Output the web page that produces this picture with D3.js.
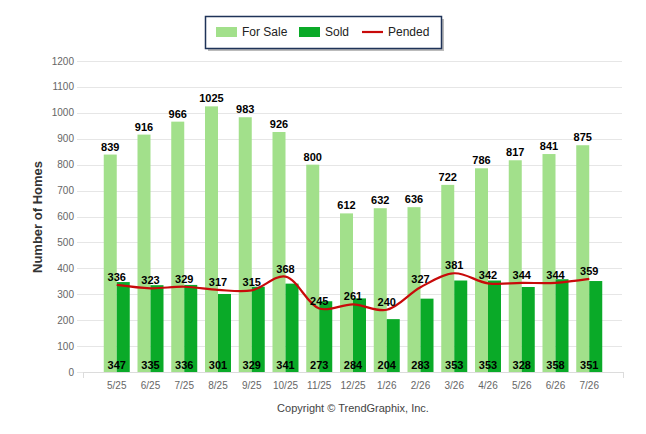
<!DOCTYPE html>
<html>
<head>
<meta charset="utf-8">
<script src="https://cdn.jsdelivr.net/npm/d3@7"></script>
<style>
  body { margin: 0; background: #fff; }
  svg { display: block; font-family: "Liberation Sans", Arial, sans-serif; }
</style>
</head>
<body>
<div id="chart"></div>
<script>
// data START
var months  = ["5/25","6/25","7/25","8/25","9/25","10/25","11/25","12/25","1/26","2/26","3/26","4/26","5/26","6/26","7/26"];
var forSale = [839, 916, 966, 1025, 983, 926, 800, 612, 632, 636, 722, 786, 817, 841, 875];
var sold    = [347, 335, 336, 301, 329, 341, 273, 284, 204, 283, 353, 353, 328, 358, 351];
var pended  = [336, 323, 329, 317, 315, 368, 245, 261, 240, 327, 381, 342, 344, 344, 359];
var yTicks  = [0, 100, 200, 300, 400, 500, 600, 700, 800, 900, 1000, 1100, 1200];
// data END

var W = 646, H = 434;
var plotL = 83, plotR = 623, plotT = 61, plotB = 372;

var svg = d3.select("#chart").append("svg")
    .attr("width", W)
    .attr("height", H);

var x = d3.scalePoint().domain(months).range([plotL, plotR]).padding(1);
var y = d3.scaleLinear().domain([0, 1200]).range([plotB, plotT]);
var barW = 13;

// grid
svg.append("g").selectAll("line").data(yTicks).enter().append("line")
    .attr("x1", 77).attr("x2", 622)
    .attr("y1", d => Math.round(y(d)) + 0.5).attr("y2", d => Math.round(y(d)) + 0.5)
    .attr("stroke", "#e6e6e6").attr("stroke-width", 1);

// y tick labels
svg.append("g").selectAll("text").data(yTicks).enter().append("text")
    .attr("x", 74).attr("y", d => y(d) + 3.5)
    .attr("text-anchor", "end")
    .attr("font-size", "10px")
    .attr("fill", "#666")
    .text(d => d);

// x axis line + end ticks
svg.append("line")
    .attr("x1", plotL).attr("x2", plotR)
    .attr("y1", plotB + 0.5).attr("y2", plotB + 0.5)
    .attr("stroke", "#dcdcdc");
[plotL, plotR].forEach(function (tx) {
    svg.append("line")
        .attr("x1", tx + 0.5).attr("x2", tx + 0.5)
        .attr("y1", plotB).attr("y2", plotB + 6)
        .attr("stroke", "#dcdcdc");
});

// x tick labels
svg.append("g").selectAll("text").data(months).enter().append("text")
    .attr("x", d => x(d)).attr("y", 389)
    .attr("text-anchor", "middle")
    .attr("font-size", "10px")
    .attr("fill", "#666")
    .text(d => d);

// for sale bars
svg.append("g").selectAll("rect").data(forSale).enter().append("rect")
    .attr("x", (d, i) => x(months[i]) - barW)
    .attr("y", d => y(d))
    .attr("width", barW)
    .attr("height", d => plotB - y(d))
    .attr("fill", "#a2e08b");

// sold bars
svg.append("g").selectAll("rect").data(sold).enter().append("rect")
    .attr("x", (d, i) => x(months[i]))
    .attr("y", d => y(d))
    .attr("width", barW)
    .attr("height", d => plotB - y(d))
    .attr("fill", "#0aaa28");

// pended line
var line = d3.line()
    .x((d, i) => x(months[i]))
    .y(d => y(d))
    .curve(d3.curveCatmullRom.alpha(0.5));
svg.append("path")
    .datum(pended)
    .attr("d", line)
    .attr("fill", "none")
    .attr("stroke", "#c80a0a")
    .attr("stroke-width", 2.2);

// value labels
var lbl = { "font-size": "11px", "font-weight": "bold", "fill": "#000", "text-anchor": "middle" };
function addLabels(data, fx, fy) {
    var t = svg.append("g").selectAll("text").data(data).enter().append("text")
        .attr("x", fx).attr("y", fy).text(d => d);
    Object.keys(lbl).forEach(k => t.attr(k, lbl[k]));
}
addLabels(forSale, (d, i) => x(months[i]) - barW / 2, d => y(d) - 4);
addLabels(pended, (d, i) => x(months[i]), d => y(d) - 4);
addLabels(sold, (d, i) => x(months[i]), () => plotB - 3);

// y axis title
svg.append("text")
    .attr("transform", "translate(42,217) rotate(-90)")
    .attr("text-anchor", "middle")
    .attr("font-size", "13px")
    .attr("font-weight", "bold")
    .attr("fill", "#333")
    .text("Number of Homes");

// legend
var lg = svg.append("g");
lg.append("rect").attr("x", 208).attr("y", 19).attr("width", 236).attr("height", 32)
    .attr("fill", "#bbb");
lg.append("rect").attr("x", 205.5).attr("y", 16.5).attr("width", 236).attr("height", 32)
    .attr("fill", "#fff").attr("stroke", "#1f3358").attr("stroke-width", 1.5);
lg.append("rect").attr("x", 216).attr("y", 27).attr("width", 21).attr("height", 10).attr("fill", "#a2e08b");
lg.append("text").attr("x", 242).attr("y", 36).attr("font-size", "12px").attr("fill", "#222").text("For Sale");
lg.append("rect").attr("x", 299).attr("y", 27).attr("width", 21).attr("height", 10).attr("fill", "#0aaa28");
lg.append("text").attr("x", 325).attr("y", 36).attr("font-size", "12px").attr("fill", "#222").text("Sold");
lg.append("line").attr("x1", 362).attr("x2", 383).attr("y1", 32).attr("y2", 32)
    .attr("stroke", "#c80a0a").attr("stroke-width", 2.2);
lg.append("text").attr("x", 388).attr("y", 36).attr("font-size", "12px").attr("fill", "#222").text("Pended");

// copyright
svg.append("text")
    .attr("x", 353).attr("y", 412)
    .attr("text-anchor", "middle")
    .attr("font-size", "11px")
    .attr("fill", "#444")
    .text("Copyright \u00a9 TrendGraphix, Inc.");
</script>
</body>
</html>
